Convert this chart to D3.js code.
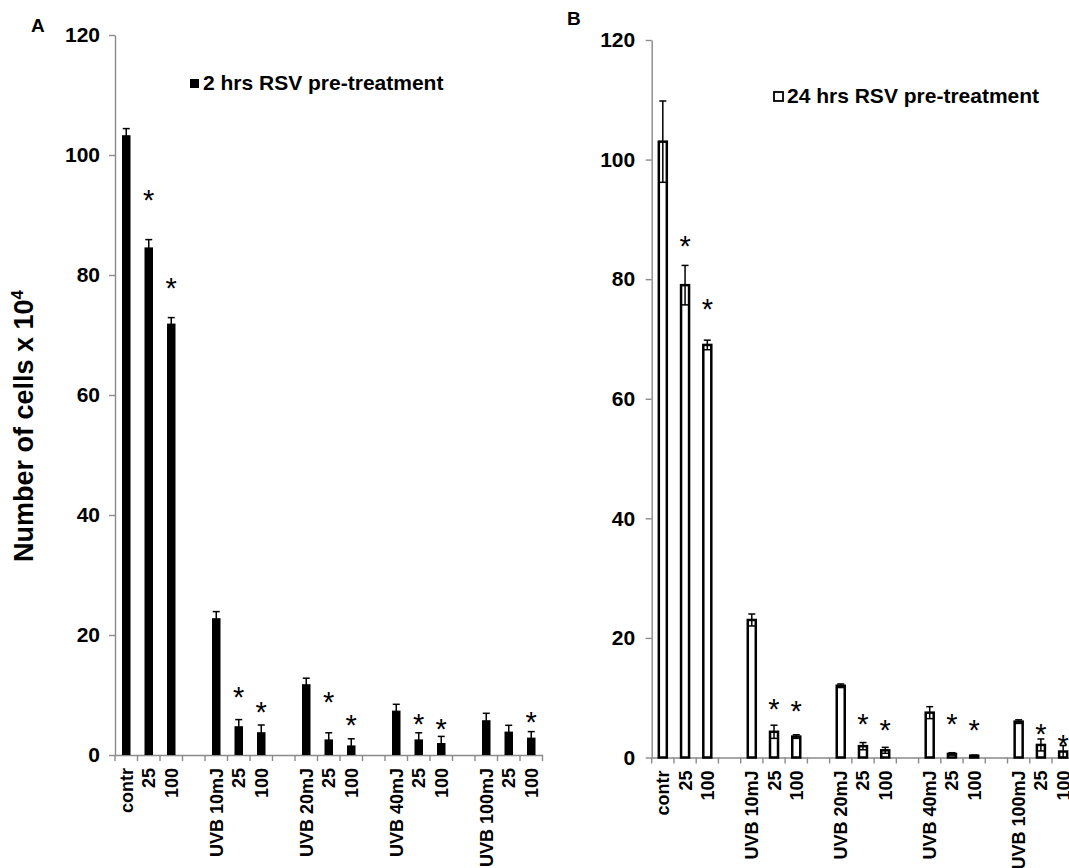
<!DOCTYPE html>
<html>
<head>
<meta charset="utf-8">
<script src="https://d3js.org/d3.v7.min.js"></script>
<style>
  body { margin: 0; background: #fff; }
  svg { display: block; font-family: "Liberation Sans", Arial, sans-serif; }
  .axis path, .axis line { stroke: #8a8a8a; stroke-width: 1.4; }
  .axis text { fill: #000; font-weight: bold; }
</style>
</head>
<body>
<div id="chart"></div>
<script>
// Cell counts after UVB, with RSV pre-treatment (2 hrs / 24 hrs)
var categories = ["contr", "25", "100", "",
    "UVB 10mJ", "25", "100", "",
    "UVB 20mJ", "25", "100", "",
    "UVB 40mJ", "25", "100", "",
    "UVB 100mJ", "25", "100"];

var yTicks = [0, 20, 40, 60, 80, 100, 120];

// Panel A - 2 hrs
var meanA = [103.3, 84.6, 71.9, null, 22.8, 4.8, 3.8, null, 11.8, 2.6, 1.6, null, 7.4, 2.6, 2.0, null, 5.8, 3.9, 2.9];
var errA  = [1.1, 1.3, 1.0, null, 1.1, 1.1, 1.2, null, 1.0, 1.1, 1.1, null, 1.05, 1.1, 1.1, null, 1.15, 1.05, 1.0];
var starA = [null, 93.6, 78.9, null, null, 10.8, 8.3, null, null, 10.0, 6.2, null, null, 6.3, 5.5, null, null, null, 6.7];

// Panel B - 24 hrs
var meanB = [103, 79, 69, null, 23, 4.3, 3.5, null, 12, 1.9, 1.2, null, 7.5, 0.6, 0.3, null, 6.0, 2.1, 1.0];
var errB  = [6.8, 3.3, 0.8, null, 1.0, 1.1, 0.3, null, 0.3, 0.6, 0.5, null, 1.0, 0.2, 0.1, null, 0.3, 1.0, 1.0];
var starB = [null, 86.7, 76.2, null, null, 9.3, 8.9, null, null, 6.7, 5.8, null, null, 6.8, 5.8, null, null, 5.15, 3.2];

var svgWidth = 1069;
var svgHeight = 868;

var svg = d3.select("#chart")
    .append("svg")
    .attr("width", svgWidth)
    .attr("height", svgHeight);

function drawPanel(opts) {
    var idx = d3.range(categories.length);

    var x = d3.scaleBand()
        .domain(idx)
        .range([opts.x0, opts.x0 + opts.band * categories.length]);

    var y = d3.scaleLinear()
        .domain([0, 120])
        .range([opts.y0, opts.y120]);

    var g = svg.append("g");

    // y axis
    g.append("g")
        .attr("class", "axis")
        .attr("transform", `translate(${opts.x0}, 0)`)
        .call(d3.axisLeft(y).tickValues(yTicks).tickSize(6).tickSizeOuter(0).tickPadding(opts.yPad))
        .selectAll("text")
        .attr("font-size", "21px");

    // x axis (labels only, ticks sit on band edges)
    var xAxis = g.append("g")
        .attr("class", "axis")
        .attr("transform", `translate(0, ${opts.y0})`)
        .call(d3.axisBottom(x).tickSize(0).tickSizeOuter(0).tickFormat(i => categories[i]));

    xAxis.selectAll("text")
        .attr("font-size", "18px")
        .attr("text-anchor", "end")
        .attr("transform", "rotate(-90)")
        .attr("x", -13)
        .attr("y", 0)
        .attr("dy", ".36em");

    xAxis.selectAll(".edge")
        .data(idx.concat([categories.length]))
        .enter()
        .append("line")
        .attr("class", "edge")
        .attr("x1", i => i < categories.length ? x(i) : x.range()[1])
        .attr("x2", i => i < categories.length ? x(i) : x.range()[1])
        .attr("y1", 0)
        .attr("y2", 6);

    var data = idx.filter(i => opts.mean[i] !== null);
    var cx = i => x(i) + x.bandwidth() / 2;

    // bars
    g.selectAll(".bar")
        .data(data)
        .enter()
        .append("rect")
        .attr("class", "bar")
        .attr("x", i => cx(i) - opts.barW / 2)
        .attr("y", i => y(opts.mean[i]))
        .attr("width", opts.barW)
        .attr("height", i => opts.y0 - y(opts.mean[i]))
        .attr("fill", opts.fill)
        .attr("stroke", "#000")
        .attr("stroke-width", opts.stroke);

    // error bars
    var cap = 3.5;
    var eb = g.selectAll(".err")
        .data(data)
        .enter()
        .append("g")
        .attr("class", "err")
        .attr("stroke", "#000")
        .attr("stroke-width", 1.5);

    eb.append("line")
        .attr("x1", cx).attr("x2", cx)
        .attr("y1", i => y(Math.max(0, opts.mean[i] - opts.err[i])))
        .attr("y2", i => y(opts.mean[i] + opts.err[i]));
    eb.append("line")
        .attr("x1", i => cx(i) - cap).attr("x2", i => cx(i) + cap)
        .attr("y1", i => y(opts.mean[i] + opts.err[i]))
        .attr("y2", i => y(opts.mean[i] + opts.err[i]));
    eb.append("line")
        .attr("x1", i => cx(i) - cap).attr("x2", i => cx(i) + cap)
        .attr("y1", i => y(Math.max(0, opts.mean[i] - opts.err[i])))
        .attr("y2", i => y(Math.max(0, opts.mean[i] - opts.err[i])));

    // significance marks
    g.selectAll(".star")
        .data(idx.filter(i => opts.star[i] !== null))
        .enter()
        .append("text")
        .attr("class", "star")
        .attr("x", cx)
        .attr("y", i => y(opts.star[i]))
        .attr("dy", "0.58em")
        .attr("text-anchor", "middle")
        .attr("font-size", "29px")
        .text("*");

    // legend
    g.append("rect")
        .attr("x", opts.legX)
        .attr("y", opts.legY - 11)
        .attr("width", 9)
        .attr("height", 9)
        .attr("fill", opts.fill)
        .attr("stroke", "#000")
        .attr("stroke-width", opts.fill === "#000" ? 0 : 1.8);
    g.append("text")
        .attr("x", opts.legX + 13)
        .attr("y", opts.legY)
        .attr("font-size", "21px")
        .attr("font-weight", "bold")
        .text(opts.legend);

    // panel letter
    g.append("text")
        .attr("x", opts.letterX)
        .attr("y", opts.letterY)
        .attr("font-size", "19px")
        .attr("font-weight", "bold")
        .text(opts.letter);
}

drawPanel({
    x0: 115, band: 22.5, y0: 755, y120: 35, yPad: 9,
    mean: meanA, err: errA, star: starA,
    barW: 8.5, fill: "#000", stroke: 0,
    legX: 190, legY: 90, legend: "2 hrs RSV pre-treatment",
    letter: "A", letterX: 31, letterY: 32
});

drawPanel({
    x0: 651.7, band: 22.24, y0: 757.5, y120: 40, yPad: 10.5,
    mean: meanB, err: errB, star: starB,
    barW: 8, fill: "#fff", stroke: 2.5,
    legX: 774, legY: 103, legend: "24 hrs RSV pre-treatment",
    letter: "B", letterX: 567, letterY: 25
});

// shared y title
var title = svg.append("text")
    .attr("transform", "translate(33, 426) rotate(-90)")
    .attr("text-anchor", "middle")
    .attr("font-size", "27px")
    .attr("font-weight", "bold")
    .text("Number of cells x 10");
title.append("tspan")
    .attr("font-size", "17px")
    .attr("dy", "-10")
    .text("4");
</script>
</body>
</html>
